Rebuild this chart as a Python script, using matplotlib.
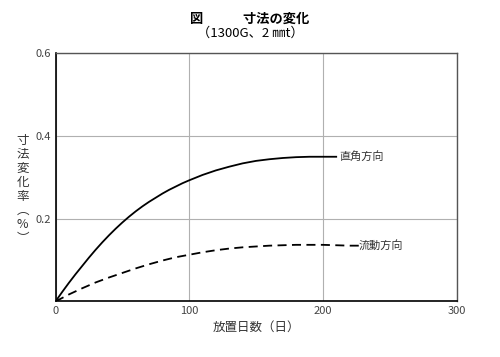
import matplotlib
matplotlib.use("Agg")
import matplotlib.pyplot as plt

plt.rcParams['font.family'] = ['Noto Sans CJK JP', 'DejaVu Sans']

# 読み取り値
days_perp = [0, 5, 10, 15, 20, 25, 30, 35, 40, 45, 50, 55, 60, 65, 70, 75, 80, 85, 90, 95,
             100, 110, 120, 130, 140, 150, 160, 170, 180, 190, 200, 210]
change_perp = [0, 0.023, 0.045, 0.066, 0.086, 0.106, 0.125, 0.143, 0.16, 0.176, 0.191,
               0.205, 0.218, 0.23, 0.241, 0.251, 0.261, 0.27, 0.278, 0.286,
               0.293, 0.306, 0.317, 0.326, 0.334, 0.34, 0.344, 0.347, 0.349, 0.35, 0.35, 0.35]
days_flow = [0, 10, 20, 30, 40, 50, 60, 70, 80, 90, 100, 110, 120, 130, 140, 150, 160,
             170, 180, 190, 200, 210, 220, 227]
change_flow = [0, 0.017, 0.032, 0.046, 0.058, 0.069, 0.08, 0.09, 0.099, 0.107, 0.113,
               0.119, 0.124, 0.128, 0.131, 0.133, 0.135, 0.136, 0.137, 0.137, 0.137,
               0.136, 0.135, 0.135]

xticks = [0, 100, 200, 300]
yticks = [0, 0.2, 0.4, 0.6]
ytick_labels = ['', '0.2', '0.4', '0.6']

fig = plt.figure(figsize=(5, 3.57), dpi=100)
ax = fig.add_axes([0.111, 0.1555, 0.802, 0.695])

ax.plot(days_perp, change_perp, color='black', lw=1.3)
ax.plot(days_flow, change_flow, color='black', lw=1.3, ls=(0, (5, 3)))

ax.text(212, 0.35, '直角方向', fontsize=8, va='center', color='#333333')
ax.text(227, 0.135, '流動方向', fontsize=8, va='center', color='#333333')

ax.set_xlim(0, 300)
ax.set_ylim(0, 0.6)
ax.set_xticks(xticks)
ax.set_xticklabels([str(x) for x in xticks])
ax.set_yticks(yticks)
ax.set_yticklabels(ytick_labels)
ax.tick_params(length=0, labelsize=8, labelcolor='#444444', pad=3)
ax.grid(True, color='#b0b0b0', lw=0.8)
for side in ['left', 'bottom']:
    ax.spines[side].set_color('black')
    ax.spines[side].set_linewidth(1.2)
for side in ['top', 'right']:
    ax.spines[side].set_color('#555555')
    ax.spines[side].set_linewidth(1.0)

ax.set_xlabel('放置日数（日）', fontsize=9, color='#333333', labelpad=4)
fig.text(0.045, 0.47, '寸\n法\n変\n化\n率\n︵\n%\n︶', fontsize=9, color='#333333',
         ha='center', va='center', linespacing=1.1)

fig.text(0.5, 0.948, '図　　　寸法の変化', fontsize=9.5, ha='center', va='center',
         fontweight='bold')
fig.text(0.5, 0.908, '（1300G、2 ㎜t）', fontsize=9.5, ha='center', va='center')

fig.savefig('out.png', dpi=100)
